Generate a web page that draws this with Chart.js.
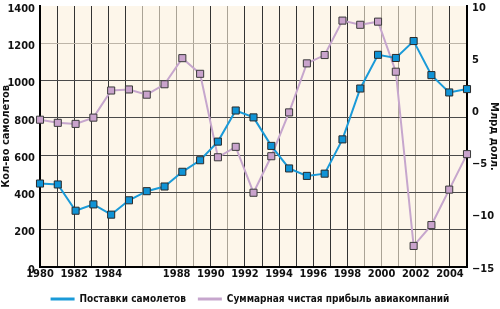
<!DOCTYPE html>
<html>
<head>
<meta charset="utf-8">
<script src="https://cdn.jsdelivr.net/npm/chart.js@4.4.0/dist/chart.umd.min.js"></script>
<style>
  html, body { margin: 0; padding: 0; background: #fff; }
  #wrap { width: 500px; height: 309px; }
</style>
</head>
<body>
<div id="wrap"><canvas id="chart"></canvas></div>
<script>
// data points (25 of them, spread over the full plot width)
const years = ['1980', '1981', '1982', '1983', '1984', '1985', '1986', '1987', '1988', '1989',
               '1990', '1991', '1992', '1993', '1994', '1995', '1996', '1997', '1998', '1999',
               '2000', '2001', '2002', '2003', '2004'];
const deliveries = [447, 442, 301, 335, 280, 357, 406, 431, 510, 572,
                    672, 839, 802, 649, 528, 488, 500, 684, 957, 1138,
                    1121, 1212, 1029, 936, 954];
const profit = [-0.9, -1.2, -1.3, -0.7, 1.9, 2.0, 1.5, 2.5, 5.0, 3.5,
                -4.5, -3.5, -7.9, -4.4, -0.2, 4.5, 5.3, 8.6, 8.2, 8.5,
                3.7, -13.0, -11.0, -7.6, -4.2];

// the year grid of the axis (1980..2005) and which years get a label
const tickYears = [1980, 1982, 1984, 1988, 1990, 1992, 1994, 1996, 1998, 2000, 2002, 2004];
const lightGridYears = [1986, 1987, 1988, 1989, 1991, 1999, 2000, 2001, 2002, 2003];

const BLUE = '#1a9ad8';
const PINK = '#c6a6cd';
const FONT = "'DejaVu Sans Condensed', 'DejaVu Sans', sans-serif";

Chart.defaults.font.family = FONT;
Chart.defaults.font.weight = 'bold';
Chart.defaults.font.size = 11;
Chart.defaults.color = '#111';

// cream background behind the plot only
const plotBackground = {
    id: 'plotBackground',
    beforeDraw(chart) {
        const a = chart.chartArea;
        const ctx = chart.ctx;
        ctx.save();
        ctx.fillStyle = '#fdf6ea';
        ctx.fillRect(a.left, a.top, a.right - a.left, a.bottom - a.top);
        ctx.restore();
    }
};

new Chart(document.getElementById('chart'), {
    type: 'line',
    data: {
        labels: years,
        datasets: [
            {
                label: 'Поставки самолетов',
                data: deliveries,
                yAxisID: 'y',
                xAxisID: 'xd',
                borderColor: BLUE,
                backgroundColor: BLUE,
                borderWidth: 2,
                pointStyle: 'rect',
                pointRadius: 5,
                pointHoverRadius: 5,
                pointBackgroundColor: '#0f93d6',
                pointBorderColor: '#2a2a2a',
                pointBorderWidth: 1,
                tension: 0
            },
            {
                label: 'Суммарная чистая прибыль авиакомпаний',
                data: profit,
                yAxisID: 'y1',
                xAxisID: 'xd',
                borderColor: PINK,
                backgroundColor: PINK,
                borderWidth: 2,
                pointStyle: 'rect',
                pointRadius: 5,
                pointHoverRadius: 5,
                pointBackgroundColor: '#c9a3cc',
                pointBorderColor: '#3a3a3a',
                pointBorderWidth: 1,
                tension: 0
            }
        ]
    },
    options: {
        responsive: true,
        maintainAspectRatio: false,
        animation: false,
        layout: { padding: { top: 1, bottom: -5, left: 0, right: 0 } },
        plugins: {
            legend: {
                position: 'bottom',
                labels: {
                    usePointStyle: true,
                    pointStyle: 'line',
                    pointStyleWidth: 24,
                    padding: 12,
                    color: '#111',
                    font: { size: 10, weight: 'bold' },
                    // legend swatch = the line colour, not the point border
                    generateLabels(chart) {
                        const items = Chart.defaults.plugins.legend.labels.generateLabels(chart);
                        items.forEach(item => {
                            const ds = chart.data.datasets[item.datasetIndex];
                            item.strokeStyle = ds.borderColor;
                            item.fillStyle = ds.borderColor;
                            item.lineWidth = 3;
                        });
                        return items;
                    }
                }
            },
            tooltip: { enabled: false }
        },
        scales: {
            xd: {
                type: 'category',
                display: false,
                offset: false
            },
            x: {
                type: 'linear',
                position: 'bottom',
                min: 1980,
                max: 2005,
                grid: {
                    drawTicks: false,
                    lineWidth: 1,
                    color: ctx => lightGridYears.includes(ctx.tick.value) ? '#aaa396' : '#333'
                },
                border: { color: '#000', width: 2 },
                ticks: {
                    stepSize: 1,
                    autoSkip: false,
                    maxRotation: 0,
                    padding: 1,
                    color: '#111',
                    callback: v => tickYears.includes(v) ? String(v) : ''
                }
            },
            y: {
                position: 'left',
                min: 0,
                max: 1400,
                grid: {
                    drawTicks: false,
                    color: ctx => ctx.tick.value === 1400 ? 'rgba(0,0,0,0)' :
                                  (ctx.tick.value === 1200 ? '#bdb5a8' : '#4a4a4a')
                },
                border: { color: '#000', width: 2 },
                ticks: { stepSize: 200, padding: 5, labelOffset: 3, color: '#111', callback: v => String(v) },
                title: {
                    display: true,
                    text: 'Кол-во самолетов',
                    color: '#111',
                    padding: 0,
                    font: { size: 11, weight: 'bold' }
                },
                afterFit(scale) { scale.width = 40; scale.paddingTop = 0; }
            },
            y1: {
                position: 'right',
                min: -15,
                max: 10,
                grid: { drawOnChartArea: false, drawTicks: false },
                border: { color: '#000', width: 2 },
                ticks: {
                    stepSize: 5,
                    padding: 5,
                    labelOffset: 2,
                    color: '#111',
                    callback: v => v < 0 ? '\u2212' + Math.abs(v) : String(v)
                },
                title: {
                    display: true,
                    text: 'Млрд долл.',
                    color: '#111',
                    padding: 0,
                    font: { size: 11, weight: 'bold' }
                },
                afterFit(scale) { scale.width = 33; scale.paddingTop = 0; }
            }
        }
    },
    plugins: [plotBackground]
});
</script>
</body>
</html>
